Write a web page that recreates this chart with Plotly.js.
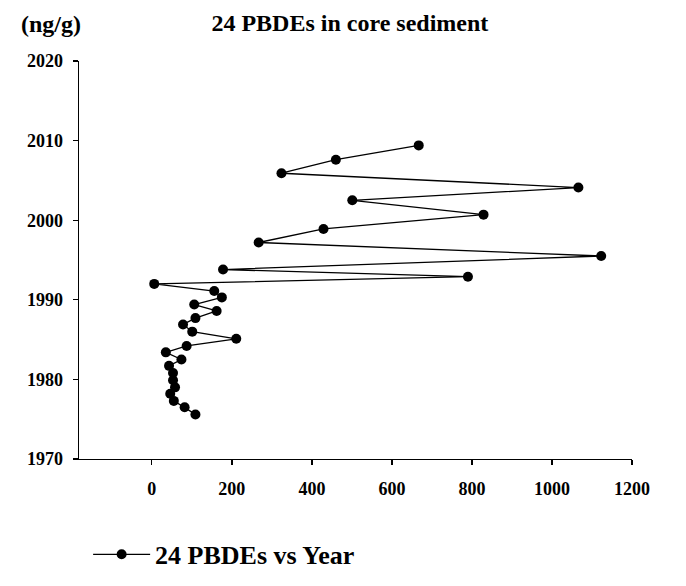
<!DOCTYPE html>
<html>
<head>
<meta charset="utf-8">
<script src="https://cdn.plot.ly/plotly-3.0.1.min.js"></script>
<style>html,body{margin:0;padding:0;background:#fff;}#chart{width:686px;height:586px;}</style>
</head>
<body>
<div id="chart"></div>
<script>
// 24 PBDEs concentration (ng/g) by core-sediment year
const years = [1975.6, 1976.5, 1977.3, 1978.2, 1979.0, 1979.9, 1980.8, 1981.7, 1982.5, 1983.4,
               1984.2, 1985.1, 1986.0, 1986.9, 1987.7, 1988.6, 1989.4, 1990.3, 1991.1, 1992.0,
               1992.9, 1993.8, 1995.5, 1997.2, 1998.9, 2000.7, 2002.5, 2004.1, 2005.9, 2007.6, 2009.4];
const pbdes = [109, 82, 55, 46, 58, 53, 53, 43, 74, 35,
               87, 211, 101, 78, 109, 162, 106, 175, 156, 6,
               790, 178, 1123, 267, 429, 829, 501, 1066, 324, 460, 667];
const xTicks = [0, 200, 400, 600, 800, 1000, 1200];
const yTicks = [1970, 1980, 1990, 2000, 2010, 2020];
const seriesName = '24 PBDEs vs Year';
const chartTitle = '24 PBDEs in core sediment';
const unitLabel = '(ng/g)';

const serif = 'Liberation Serif, Times New Roman, serif';

const trace = {
  x: pbdes, y: years, type: 'scatter', mode: 'lines+markers', name: seriesName,
  line: {color: '#000', width: 1.3},
  marker: {color: '#000', size: 10},
  hoverinfo: 'skip'
};

const layout = {
  width: 686, height: 586,
  paper_bgcolor: '#fff', plot_bgcolor: '#fff',
  margin: {l: 78.5, r: 53.5, t: 60.7, b: 127.3},
  showlegend: true,
  title: {text: chartTitle, x: 0.51, xanchor: 'center', y: 0.962, yanchor: 'middle',
          font: {family: serif, size: 24, weight: 'bold', color: '#000'}},
  xaxis: {range: [-182, 1200], tickvals: xTicks, ticktext: xTicks.map(String),
          showline: true, linecolor: '#000', linewidth: 1.3, mirror: false,
          ticks: 'outside', ticklen: 5, tickwidth: 1.3, tickcolor: '#000',
          showgrid: false, zeroline: false, ticklabelstandoff: 8,
          tickfont: {family: serif, size: 18, weight: 'bold', color: '#000'}},
  yaxis: {range: [1970, 2020], tickvals: yTicks, ticktext: yTicks.map(String),
          showline: true, linecolor: '#000', linewidth: 1.3,
          ticks: 'outside', ticklen: 5, tickwidth: 1.3, tickcolor: '#000',
          showgrid: false, zeroline: false, ticklabelstandoff: 6,
          tickfont: {family: serif, size: 18, weight: 'bold', color: '#000'}},
  legend: {orientation: 'h', x: 0.0165, xanchor: 'left', yref: 'container', y: 0.094, yanchor: 'top',
           font: {family: serif, size: 26, weight: 'bold', color: '#000'},
           bgcolor: 'rgba(0,0,0,0)', itemwidth: 57},
  annotations: [{text: unitLabel, xref: 'paper', yref: 'paper', x: -0.05, y: 1.0, yshift: 37,
                 xanchor: 'center', yanchor: 'middle', showarrow: false,
                 font: {family: serif, size: 24, weight: 'bold', color: '#000'}}]
};

Plotly.newPlot('chart', [trace], layout, {displayModeBar: false, staticPlot: true});
</script>
</body>
</html>
